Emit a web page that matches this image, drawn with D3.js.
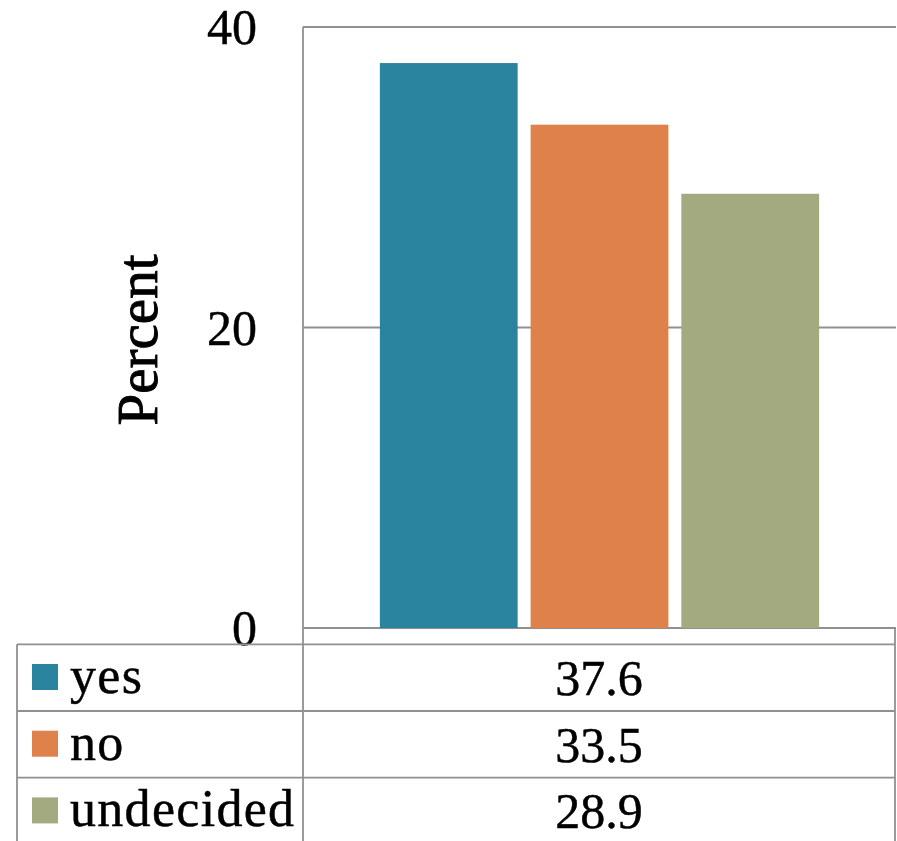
<!DOCTYPE html>
<html>
<head>
<meta charset="utf-8">
<script src="https://cdn.jsdelivr.net/npm/d3@7"></script>
<style>
  html, body { margin: 0; padding: 0; background: #fff; }
  svg { display: block; }
  text { font-family: "Liberation Serif", "DejaVu Serif", serif; fill: #000; stroke: #000; stroke-width: 0.45px; }
</style>
</head>
<body>
<svg id="chart" width="897" height="841"></svg>
<script>
const series = ["yes", "no", "undecided"];
const values = [37.6, 33.5, 28.9];
const valueLabels = ["37.6", "33.5", "28.9"];
const colors = ["#2b849f", "#de814a", "#a4aa80"];
const yTicks = [0, 20, 40];
const yTitle = "Percent";

const W = 897, H = 841;
const plot = { left: 303, right: 896, top: 27, bottom: 628 };
const table = { left: 17, split: 303, right: 895, top: 644.3, rowH: 66.7 };
const gridColor = "#909090";

const svg = d3.select("#chart");

const y = d3.scaleLinear().domain([0, 40]).range([plot.bottom, plot.top]);
const x = d3.scaleBand().domain(series).range([plot.left, plot.right])
  .paddingInner(0.086).paddingOuter(0.51);
const row = d3.scaleBand().domain(series)
  .range([table.top, table.top + table.rowH * series.length]);

// gridlines
svg.append("g").selectAll("line").data(yTicks).join("line")
  .attr("x1", plot.left).attr("x2", plot.right)
  .attr("y1", d => y(d)).attr("y2", d => y(d))
  .attr("stroke", gridColor).attr("stroke-width", 1.8);

// bars
svg.append("g").selectAll("rect").data(series).join("rect")
  .attr("x", d => x(d))
  .attr("width", x.bandwidth())
  .attr("y", (d, i) => y(values[i]))
  .attr("height", (d, i) => y(0) - y(values[i]))
  .attr("fill", (d, i) => colors[i]);

// y tick labels
svg.append("g").selectAll("text").data(yTicks).join("text")
  .attr("x", 257).attr("y", d => y(d))
  .attr("text-anchor", "end").attr("dy", "0.34em")
  .attr("font-size", 50)
  .text(d => d);

// y title
svg.append("text")
  .attr("transform", "translate(157,340) rotate(-90)")
  .attr("text-anchor", "middle")
  .attr("font-size", 57)
  .style("stroke-width", "0.9px")
  .text(yTitle);

// table lines
const tbl = svg.append("g").attr("stroke", gridColor).attr("stroke-width", 1.8);
tbl.append("line").attr("x1", table.split).attr("x2", table.split)
  .attr("y1", plot.top).attr("y2", H);
tbl.append("line").attr("x1", table.right).attr("x2", table.right)
  .attr("y1", plot.bottom).attr("y2", H);
tbl.append("line").attr("x1", table.left).attr("x2", table.left)
  .attr("y1", table.top).attr("y2", H);
tbl.selectAll("line.row").data(series).join("line").attr("class", "row")
  .attr("x1", table.left).attr("x2", table.right)
  .attr("y1", d => row(d)).attr("y2", d => row(d));

// legend keys
svg.append("g").selectAll("rect").data(series).join("rect")
  .attr("x", 32).attr("width", 26).attr("height", 26)
  .attr("y", d => row(d) + 19.7)
  .attr("fill", (d, i) => colors[i]);

// row labels
svg.append("g").selectAll("text").data(series).join("text")
  .attr("x", 70).attr("y", d => row(d) + 48.5)
  .attr("font-size", 52)
  .attr("letter-spacing", 1.3)
  .text(d => d);

// values
svg.append("g").selectAll("text").data(series).join("text")
  .attr("x", (table.split + table.right) / 2).attr("y", d => row(d) + 50.5)
  .attr("text-anchor", "middle")
  .attr("font-size", 50)
  .text((d, i) => valueLabels[i]);
</script>
</body>
</html>
